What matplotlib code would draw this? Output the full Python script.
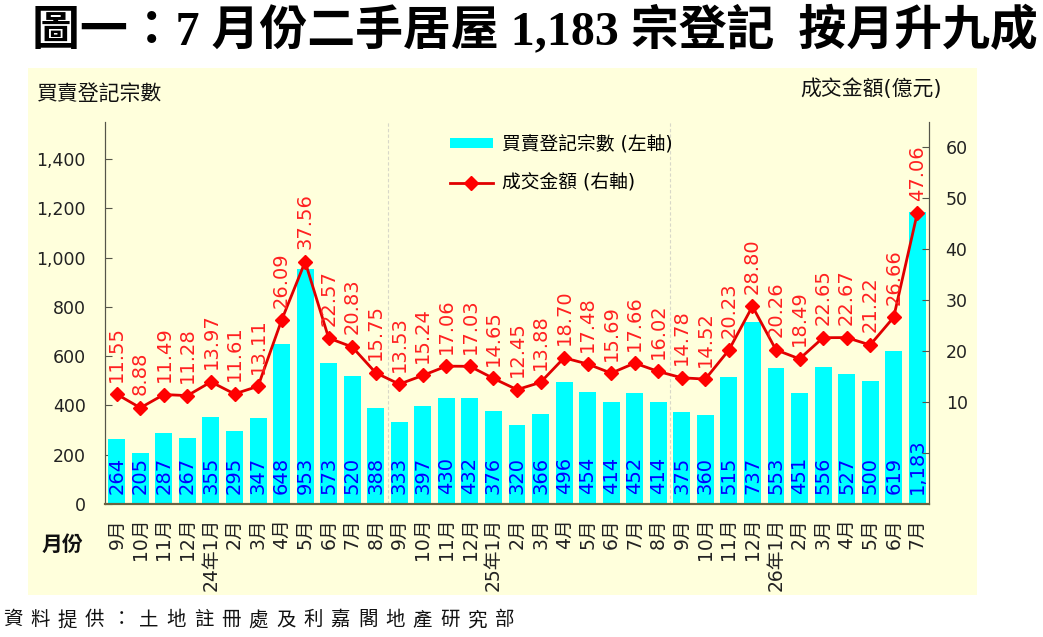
import matplotlib
matplotlib.use("Agg")
import matplotlib.pyplot as plt
from matplotlib.patches import Patch, Rectangle
from matplotlib.lines import Line2D

plt.rcParams['font.family'] = ['DejaVu Sans', 'Noto Sans CJK TC']

# data
months = ['9月', '10月', '11月', '12月',
          '24年1月', '2月', '3月', '4月', '5月', '6月', '7月', '8月',
          '9月', '10月', '11月', '12月',
          '25年1月', '2月', '3月', '4月', '5月', '6月', '7月', '8月',
          '9月', '10月', '11月', '12月',
          '26年1月', '2月', '3月', '4月', '5月', '6月', '7月']
registrations = [264, 205, 287, 267, 355, 295, 347, 648, 953, 573, 520, 388,
                 333, 397, 430, 432, 376, 320, 366, 496, 454, 414, 452, 414,
                 375, 360, 515, 737, 553, 451, 556, 527, 500, 619, 1183]
amount = [11.55, 8.88, 11.49, 11.28, 13.97, 11.61, 13.11, 26.09, 37.56, 22.57,
          20.83, 15.75, 13.53, 15.24, 17.06, 17.03, 14.65, 12.45, 13.88, 18.70,
          17.48, 15.69, 17.66, 16.02, 14.78, 14.52, 20.23, 28.80, 20.26, 18.49,
          22.65, 22.67, 21.22, 26.66, 47.06]
left_ticks = [0, 200, 400, 600, 800, 1000, 1200, 1400]
right_ticks = [0, 10, 20, 30, 40, 50, 60]

title = '圖一：7 月份二手居屋 1,183 宗登記  按月升九成'
source = '資料提供：土地註冊處及利嘉閣地產研究部'

bg = '#FFFFDC'
spine_col = '#55554A'

fig = plt.figure(figsize=(10.43, 6.37), dpi=100)
fig.patch.set_facecolor('white')
fig.patches.append(Rectangle((0.027, 0.066), 0.91, 0.827, transform=fig.transFigure,
                             facecolor=bg, edgecolor='none', zorder=-1))

ax = fig.add_axes([0.1007, 0.2088, 0.79, 0.5997])
ax.set_facecolor('none')
ax2 = ax.twinx()

x = list(range(len(months)))
ax.bar(x, registrations, width=0.72, color='#00FFFF', zorder=2)
for i, v in zip(x, registrations):
    ax.annotate(f"{v:,}", (i, 0), xytext=(0, 7), textcoords='offset points',
                rotation=90, ha='center', va='bottom', color='#0000FF', fontsize=14)

ax.set_xlim(-0.5, len(months) - 0.5)
ax.set_ylim(0, 1550)
ax.set_yticks(left_ticks)
ax.set_yticklabels([f"{t:,}" for t in left_ticks], fontsize=12.5, color='#222222')
ax.set_xticks(x)
ax.set_xticklabels(months, rotation=90, fontsize=13.5, color='#222222', va='top')
ax.tick_params(axis='x', length=0, pad=10)
ax.tick_params(axis='y', direction='in', length=5, color=spine_col, pad=14)
for xv in [11.5, 23.5]:
    ax.axvline(xv, color='#D8D8C8', linestyle=(0, (3, 2)), linewidth=0.8, zorder=1)

ax2.plot(x, amount, color='#E00000', linewidth=2, marker='D', markersize=7,
         markerfacecolor='#FF0000', markeredgecolor='#FF0000', zorder=3)
for i, v in zip(x, amount):
    ax2.annotate(f"{v:.2f}", (i, v), xytext=(0, 9), textcoords='offset points',
                 rotation=90, ha='center', va='bottom', color='#FF2020', fontsize=14)
ax2.set_ylim(-10, 65)
ax2.set_yticks(right_ticks)
ax2.set_yticklabels(['' if t == 0 else str(t) for t in right_ticks], fontsize=12.5, color='#222222')
ax2.tick_params(axis='y', direction='in', length=5, color=spine_col, pad=12)

for a in (ax, ax2):
    a.spines['top'].set_visible(False)
    a.spines['left'].set_color(spine_col)
    a.spines['right'].set_color(spine_col)
    a.spines['bottom'].set_color('#6B6340')
    a.spines['bottom'].set_linewidth(1.5)

handles = [Patch(facecolor='#00FFFF', edgecolor='none'),
           Line2D([0], [0], color='#E00000', linewidth=2, marker='D', markersize=7,
                  markerfacecolor='#FF0000', markeredgecolor='#FF0000')]
ax2.legend(handles, ['買賣登記宗數 (左軸)', '成交金額 (右軸)'], loc='upper left',
           bbox_to_anchor=(0.398, 1.012), frameon=False, fontsize=13.5,
           labelspacing=1.1, handlelength=2.3, handleheight=0.45, handletextpad=0.5)

fig.text(0.035, 0.853, '買賣登記宗數', fontsize=15, color='#111111', va='center')
fig.text(0.767, 0.861, '成交金額(億元)', fontsize=15, color='#111111', va='center')
fig.text(0.060, 0.145, '月份', fontsize=15, fontweight='bold', color='#111111', va='center', ha='center')

fig.text(0.513, 0.952, title, fontsize=34.5, fontweight='heavy', ha='center', va='center',
         family=['Liberation Serif', 'Noto Sans CJK TC'])

for k, ch in enumerate(source):
    fig.text(0.012 + k * 0.0262, 0.027, ch, fontsize=14, ha='center', va='center',
             color='#111111', family=['Noto Sans CJK TC'])

fig.savefig('out.png', dpi=100)
